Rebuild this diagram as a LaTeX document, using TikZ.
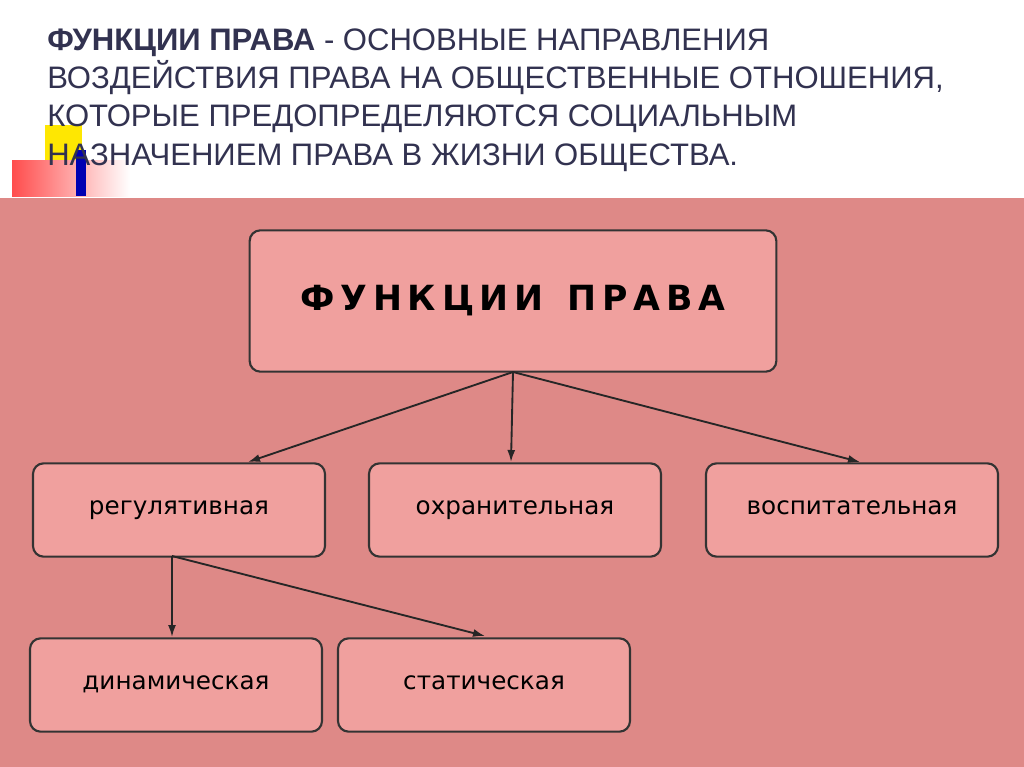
\documentclass[tikz,border=0pt]{standalone}
\usepackage{fontspec}
\setmainfont{DejaVu Sans}
\newfontfamily\titlefont{Liberation Sans}
\usetikzlibrary{arrows,arrows.meta}
\definecolor{bgpink}{RGB}{222,137,135}
\definecolor{boxpink}{RGB}{240,160,158}
\definecolor{titleblue}{RGB}{50,50,80}
\tikzset{>=latex}
\begin{document}
\begin{tikzpicture}[x=0.75pt,y=-0.75pt]
    % fnbox = function box, fnarrow = connector
    \tikzstyle{fnbox}=[draw=black!80, line width=1.6pt, fill=boxpink, rounded corners=8pt, minimum width=219pt, minimum height=70pt, text height=11pt, text depth=4pt, font=\fontsize{18.5}{20}\selectfont]
    \tikzstyle{fnarrow}=[-{Latex[length=9pt,width=6pt]}, line width=1.4pt, black!85]
    \useasboundingbox (0,0) rectangle (1024,767);
    \fill[white] (0,0) rectangle (1024,198);
    \fill[bgpink] (0,198) rectangle (1024,767);
    % corner decoration
    \fill[yellow!90!orange] (45,125) rectangle (82,160);
    \shade[left color=red!70, right color=white] (12,160) rectangle (130,196);
    \fill[blue!70!black] (76,150) rectangle (86,196);
    % heading
    \node[anchor=west, align=left, text=titleblue, font=\titlefont\fontsize{23.3}{28.7}\selectfont, inner sep=0pt] (title) at (47,100)
        {\textbf{ФУНКЦИИ ПРАВА} - ОСНОВНЫЕ НАПРАВЛЕНИЯ\\ВОЗДЕЙСТВИЯ ПРАВА НА ОБЩЕСТВЕННЫЕ ОТНОШЕНИЯ,\\КОТОРЫЕ ПРЕДОПРЕДЕЛЯЮТСЯ СОЦИАЛЬНЫМ\\НАЗНАЧЕНИЕМ ПРАВА В ЖИЗНИ ОБЩЕСТВА.};
    \node[fnbox, minimum width=395pt, minimum height=106pt, text height=18pt, font=\bfseries\fontsize{26}{28}\selectfont] (main) at (513,301) {Ф\,У\,Н\,К\,Ц\,И\,И \ П\,Р\,А\,В\,А};
    \node[fnbox] (reg) at (179,510) {регулятивная};
    \node[fnbox] (okh) at (515,510) {охранительная};
    \node[fnbox] (vos) at (852,510) {воспитательная};
    \node[fnbox] (din) at (176,685) {динамическая};
    \node[fnbox] (stat) at (484,685) {статическая};
    \coordinate (hub) at (513,372);
    \coordinate (sub) at (172,556);
    \draw[fnarrow] (hub) -- (248,462);
    \draw[fnarrow] (hub) -- (511,462);
    \draw[fnarrow] (hub) -- (860,462);
    \draw[fnarrow] (sub) -- (172,637);
    \draw[fnarrow] (sub) -- (485,636);
\end{tikzpicture}
\end{document}
